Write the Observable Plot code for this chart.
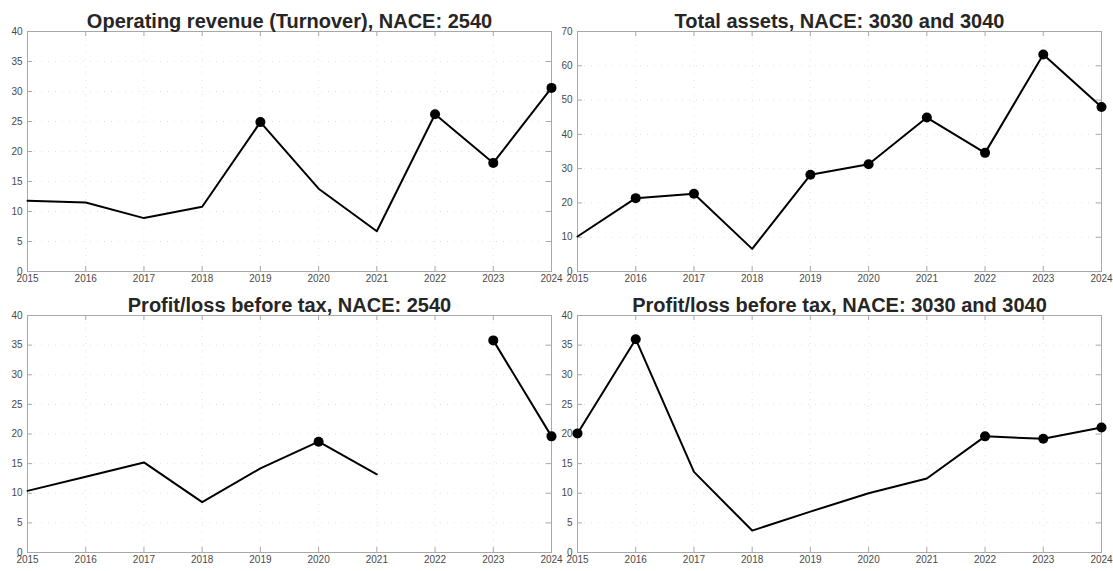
<!DOCTYPE html>
<html>
<head>
<meta charset="utf-8">
<script src="https://cdn.jsdelivr.net/npm/d3@7"></script>
<script src="https://cdn.jsdelivr.net/npm/@observablehq/plot@0.6"></script>
<style>
  html, body { margin: 0; padding: 0; background: #fff; }
  #wrap { position: relative; width: 1113px; height: 571px; overflow: hidden; }
  .panel { position: absolute; }
  .panel svg { overflow: visible; }
</style>
</head>
<body>
<div id="wrap"></div>
<script>
// ---- data ----
const years = [2015, 2016, 2017, 2018, 2019, 2020, 2021, 2022, 2023, 2024];

const revenue2540 = [11.8, 11.5, 8.9, 10.8, 24.9, 13.8, 6.7, 26.2, 18.1, 30.6];
const revenue2540Marked = [0, 0, 0, 0, 1, 0, 0, 1, 1, 1];

const assets3030 = [10.2, 21.4, 22.7, 6.6, 28.2, 31.3, 44.9, 34.6, 63.3, 48.0];
const assets3030Marked = [0, 1, 1, 0, 1, 1, 1, 1, 1, 1];

const profit2540 = [10.4, 12.8, 15.2, 8.5, 14.2, 18.7, 13.2, null, 35.8, 19.6];
const profit2540Marked = [0, 0, 0, 0, 0, 1, 0, 0, 1, 1];

const profit3030 = [20.1, 36.0, 13.6, 3.7, 6.9, 10.0, 12.5, 19.6, 19.2, 21.1];
const profit3030Marked = [1, 1, 0, 0, 0, 0, 0, 1, 1, 1];

const titles = [
  "Operating revenue (Turnover), NACE: 2540",
  "Total assets, NACE: 3030 and 3040",
  "Profit/loss before tax, NACE: 2540",
  "Profit/loss before tax, NACE: 3030 and 3040"
];
const yTicks40 = [0, 5, 10, 15, 20, 25, 30, 35, 40];
const yTicks70 = [0, 10, 20, 30, 40, 50, 60, 70];

// ---- layout ----
const panels = [
  {title: titles[0], values: revenue2540, marked: revenue2540Marked, yMax: 40, yTicks: yTicks40,
   left: 0, top: 0, width: 556, height: 285, ml: 27, mr: 5, mt: 31, mb: 14},
  {title: titles[1], values: assets3030, marked: assets3030Marked, yMax: 70, yTicks: yTicks70,
   left: 556, top: 0, width: 557, height: 285, ml: 21, mr: 12, mt: 31, mb: 14},
  {title: titles[2], values: profit2540, marked: profit2540Marked, yMax: 40, yTicks: yTicks40,
   left: 0, top: 285, width: 556, height: 286, ml: 27, mr: 5, mt: 30, mb: 19},
  {title: titles[3], values: profit3030, marked: profit3030Marked, yMax: 40, yTicks: yTicks40,
   left: 556, top: 285, width: 557, height: 286, ml: 21, mr: 12, mt: 30, mb: 19}
];

const wrap = document.getElementById("wrap");
const frameColor = "#a8a8a8";
const gridColor = "#e2e2e2";
const tickLen = 5;

for (const p of panels) {
  const data = years.map((y, i) => ({year: y, value: p.values[i], marked: !!p.marked[i]}));
  const fw = p.width - p.ml - p.mr;
  const fh = p.height - p.mt - p.mb;
  const chart = Plot.plot({
    width: p.width,
    height: p.height,
    marginLeft: p.ml,
    marginRight: p.mr,
    marginTop: p.mt,
    marginBottom: p.mb,
    style: {fontFamily: "'Liberation Sans', Arial, Helvetica, sans-serif", fontSize: "10px", color: "#4a4a4a", background: "transparent"},
    x: {domain: [2015, 2024], ticks: years, tickFormat: d => String(d), label: null},
    y: {domain: [0, p.yMax], ticks: p.yTicks, label: null},
    marks: [
      Plot.gridX(years, {stroke: gridColor, strokeOpacity: 1, strokeDasharray: "1,6"}),
      Plot.gridY(p.yTicks, {stroke: gridColor, strokeOpacity: 1, strokeDasharray: "1,6"}),
      Plot.frame({stroke: frameColor, strokeWidth: 1}),
      // inward ticks, MATLAB-style box
      Plot.tickX(years, {x: d => d, stroke: frameColor, insetTop: fh - tickLen}),
      Plot.tickX(years, {x: d => d, stroke: frameColor, insetBottom: fh - tickLen}),
      Plot.tickY(p.yTicks, {y: d => d, stroke: frameColor, insetRight: fw - tickLen}),
      Plot.tickY(p.yTicks, {y: d => d, stroke: frameColor, insetLeft: fw - tickLen}),
      Plot.axisX({anchor: "bottom", ticks: years, tickSize: 0, tickPadding: 3, tickFormat: d => String(d), label: null}),
      Plot.axisY({anchor: "left", ticks: p.yTicks, tickSize: 0, tickPadding: 5, label: null}),
      Plot.line(data, {x: "year", y: "value", stroke: "#000", strokeWidth: 2}),
      Plot.dot(data.filter(d => d.marked), {x: "year", y: "value", r: 5, fill: "#000", stroke: "none"}),
      Plot.text([p.title], {frameAnchor: "top", dy: -4, lineAnchor: "bottom", text: d => d,
        fontSize: 20, fontWeight: "bold", fill: "#262626"})
    ]
  });
  const div = document.createElement("div");
  div.className = "panel";
  div.style.left = p.left + "px";
  div.style.top = p.top + "px";
  div.appendChild(chart);
  wrap.appendChild(div);
}
</script>
</body>
</html>
